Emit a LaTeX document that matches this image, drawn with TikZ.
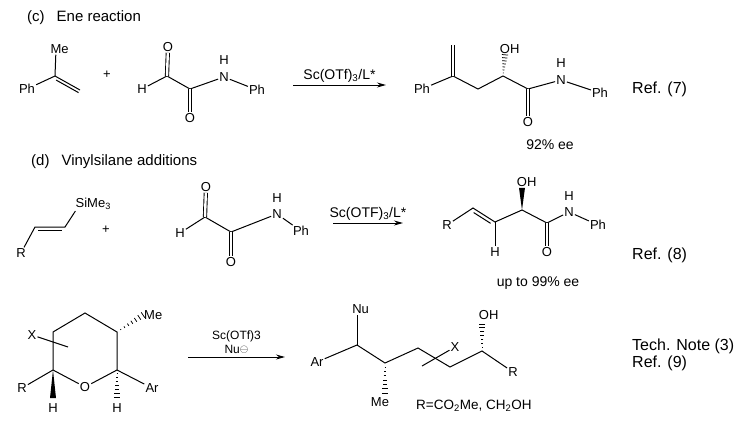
\documentclass[tikz,border=0pt]{standalone}
\usepackage{fontspec}
\setmainfont{Liberation Sans}
\usetikzlibrary{calc,arrows.meta}

\tikzset{
  bond/.style={line width=1pt},
  dbl/.style={double, double distance=2.4pt, line width=0.9pt},
  atom/.style={inner sep=1pt, font=\fontsize{13}{13}\selectfont},
  reagent/.style={inner sep=2pt, font=\fontsize{14}{14}\selectfont},
  head/.style={anchor=west, inner sep=0pt, font=\fontsize{15}{15}\selectfont},
  refnote/.style={anchor=west, inner sep=0pt, align=left, font=\fontsize{16}{17}\selectfont},
  rxn/.style={line width=1pt, -{Stealth[length=9pt,width=5pt]}},
}

\newcommand{\hashbond}[2]{%
  \foreach \i in {1,...,7}{%
    \draw[line width=0.75pt] ($(#1)!{\i/7}!(#2)!{\i*0.45pt}!90:(#1)$) -- ($(#1)!{\i/7}!(#2)!{\i*0.45pt}!-90:(#1)$);
  }}
\newcommand{\wedgebond}[2]{%
  \fill ($(#2)!3pt!90:(#1)$) -- (#1) -- ($(#2)!3pt!-90:(#1)$) -- cycle;}

\begin{document}
\begin{tikzpicture}[x=1pt,y=-1pt]
    \useasboundingbox (0,0) rectangle (750,424);

    % (c)
    \node[head] (titlec) at (27,18) {(c)\hspace{12pt}Ene reaction};

    \node[atom] (me1) at (56,49) {M\rlap{e}};
    \node[atom] (ph1) at (27,89) {Ph};
    \coordinate (a1) at (55,76);
    \coordinate (a2) at (80,90);
    \draw[bond] (ph1) -- (a1) -- (me1);
    \draw[bond] (a1) -- (a2);
    \draw[bond, shorten <=3pt] ($(a1)!3pt!-90:(a2)$) -- ($(a2)!3pt!90:(a1)$);

    \node[atom] (plus1) at (107,75) {+};

    \node[atom] (h1) at (142,89) {H};
    \coordinate (b1) at (167,76);
    \node[atom] (o1) at (168,47) {O};
    \coordinate (b2) at (190,89);
    \node[atom] (o2) at (190,118) {O};
    \node[atom] (n1) at (224,77) {N};
    \node[atom] (nh1) at (224,60) {H};
    \node[atom] (ph2) at (257,90) {Ph};
    \draw[bond] (h1) -- (b1) -- (b2) -- (n1) -- (ph2);
    \draw[dbl] (b1) -- (o1);
    \draw[dbl] (b2) -- (o2);

    \coordinate (arc1) at (293,85);
    \coordinate (arc2) at (386,85);
    \draw[rxn] (arc1) -- (arc2) node[midway, above, reagent] (scc) {Sc(OTf)\textsubscript{3}/L*};

    \node[atom] (ph3) at (422,89) {Ph};
    \coordinate (p1) at (453,76);
    \coordinate (p1t) at (453,45);
    \coordinate (p2) at (478,89);
    \coordinate (p3) at (503,76);
    \node[atom] (oh1) at (505,49) {O\rlap{H}};
    \coordinate (p4) at (528,89);
    \node[atom] (o3) at (528,122) {O};
    \node[atom] (n2) at (561,80) {N};
    \node[atom] (nh2) at (561,63) {H};
    \node[atom] (ph4) at (600,93) {Ph};
    \draw[bond] (ph3) -- (p1) -- (p2) -- (p3) -- (p4) -- (n2) -- (ph4);
    \draw[dbl] (p1) -- (p1t);
    \draw[dbl] (p4) -- (o3);
    \hashbond{p3}{oh1.south}

    \node[refnote] (refc) at (632,89) {Ref. (7)};
    \node[reagent] (eec) at (550,145) {92\% ee};

    % (d)
    \node[head] (titled) at (31,162) {(d)\hspace{12pt}Vinylsilane additions};

    \node[atom] (r1) at (21,253) {R};
    \coordinate (v1) at (35,227);
    \coordinate (v2) at (65,227);
    \node[atom] (si1) at (80,204) {S\rlap{iMe\textsubscript{3}}};
    \draw[bond] (r1) -- (v1) -- (v2) -- (si1);
    \draw[bond, shorten <=3pt, shorten >=3pt] ($(v1)!3.5pt!-90:(v2)$) -- ($(v2)!3.5pt!90:(v1)$);

    \node[atom] (plus2) at (106,230) {+};

    \node[atom] (h2) at (180,233) {H};
    \coordinate (d1) at (205,217);
    \node[atom] (o4) at (206,187) {O};
    \coordinate (d2) at (231,232);
    \node[atom] (o5) at (231,262) {O};
    \node[atom] (n3) at (277,214) {N};
    \node[atom] (nh3) at (277,198) {H};
    \node[atom] (ph5) at (301,231) {Ph};
    \draw[bond] (h2) -- (d1) -- (d2) -- (n3) -- (ph5);
    \draw[dbl] (d1) -- (o4);
    \draw[dbl] (d2) -- (o5);

    \coordinate (ard1) at (333,223);
    \coordinate (ard2) at (403,223);
    \draw[rxn] (ard1) -- (ard2) node[midway, above, reagent] (scd) {Sc(OTF)\textsubscript{3}/L*};

    \node[atom] (r2) at (447,225) {R};
    \coordinate (e1) at (473,208);
    \coordinate (e2) at (495,222);
    \node[atom] (h3) at (495,252) {H};
    \coordinate (e3) at (522,210);
    \node[atom] (oh2) at (522,182) {O\rlap{H}};
    \coordinate (e4) at (547,223);
    \node[atom] (o6) at (547,252) {O};
    \node[atom] (n4) at (569,212) {N};
    \node[atom] (nh4) at (569,196) {H};
    \node[atom] (ph6) at (598,225) {Ph};
    \draw[bond] (r2) -- (e1) -- (e2) -- (e3) -- (e4) -- (n4) -- (ph6);
    \draw[bond, shorten <=3pt, shorten >=3pt] ($(e1)!3.5pt!-90:(e2)$) -- ($(e2)!3.5pt!90:(e1)$);
    \draw[bond] (e2) -- (h3);
    \draw[dbl] (e4) -- (o6);
    \wedgebond{e3}{oh2.south}

    \node[refnote] (refd) at (632,255) {Ref. (8)};
    \node[reagent] (eed) at (538,283) {up to 99\% ee};

    % ring opening
    \coordinate (q1) at (53,332);
    \coordinate (q2) at (85,313);
    \coordinate (q3) at (117,332);
    \coordinate (q4) at (117,370);
    \node[atom] (o7) at (85,387) {O};
    \coordinate (q6) at (53,370);
    \draw[bond] (o7) -- (q6) -- (q1) -- (q2) -- (q3) -- (q4) -- (o7);
    \node[atom, anchor=west] (me3) at (143,315) {Me};
    \hashbond{q3}{me3.west}
    \node[atom] (x1) at (32,335) {X};
    \coordinate (xe1) at (68,347);
    \draw[bond] (x1) -- (xe1);
    \node[atom] (r3) at (22,388) {R};
    \draw[bond] (r3) -- (q6);
    \node[atom] (hb1) at (53,408) {H};
    \coordinate (hbe1) at (53,398);
    \wedgebond{q6}{hbe1}
    \node[atom] (hb2) at (117,408) {H};
    \coordinate (hbe2) at (117,397);
    \hashbond{q4}{hbe2}
    \node[atom] (ar1) at (152,388) {Ar};
    \draw[bond] (q4) -- (ar1);

    \coordinate (are1) at (188,357);
    \coordinate (are2) at (285,357);
    \draw[rxn] (are1) -- (are2) node[midway, above=2pt, align=center, inner sep=1pt, font=\fontsize{12}{14}\selectfont] (sce) {Sc(OTf)3\\Nu\raisebox{0.8pt}{\fontsize{11}{11}\selectfont$\ominus$}};

    \node[atom] (ar2) at (317,362) {Ar};
    \coordinate (s1) at (357,345);
    \node[atom] (nu1) at (357,309) {N\rlap{u}};
    \coordinate (s2) at (385,363);
    \coordinate (mee) at (385,393);
    \node[atom] (me4) at (380,402) {Me};
    \coordinate (s3) at (418,348);
    \coordinate (s4) at (450,367);
    \coordinate (s5) at (482,351);
    \coordinate (ohe) at (482,324);
    \node[atom] (oh3) at (484,315) {O\rlap{H}};
    \node[atom] (r4) at (513,372) {R};
    \draw[bond] (ar2) -- (s1) -- (s2) -- (s3) -- (s4) -- (s5) -- (r4);
    \draw[bond] (s1) -- (nu1);
    \hashbond{s2}{mee}
    \hashbond{s5}{ohe}
    \coordinate (xe2) at (422,366);
    \node[atom] (x2) at (455,347) {X};
    \draw[bond] (xe2) -- (x2);

    \node[atom, anchor=west, font=\fontsize{13.5}{13.5}\selectfont] (rdef) at (415,406) {R=CO\textsubscript{2}Me, CH\textsubscript{2}OH};
    \node[refnote] (refe) at (632,355) {Tech. Note (3)\\Ref. (9)};
\end{tikzpicture}
\end{document}
